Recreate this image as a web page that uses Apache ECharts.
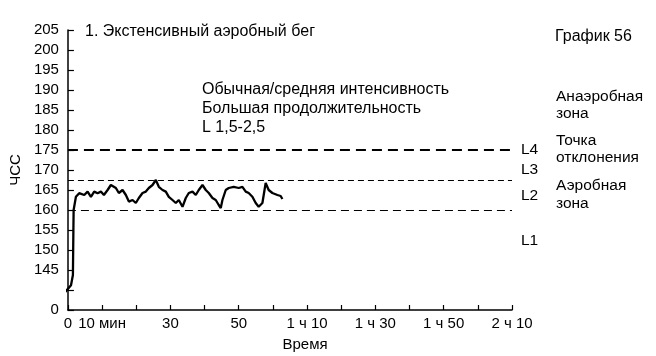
<!DOCTYPE html>
<html><head><meta charset="utf-8">
<script src="https://cdn.jsdelivr.net/npm/echarts@6/dist/echarts.min.js"></script>
<style>html,body{margin:0;padding:0;background:#fff}#c{width:656px;height:356px}</style>
</head><body><div id="c"></div>
<script>
// Time in minutes
const timeMin = [-0.8,0.9,1.46,1.6,1.67,2.34,3.30,4.77,5.76,6.73,7.69,8.68,9.65,10.53,11.61,12.57,13.07,14.04,14.91,15.99,16.96,17.84,18.92,19.88,20.76,21.84,22.81,23.68,24.77,25.73,26.61,27.69,28.65,29.53,30.61,31.58,32.46,33.54,34.50,35.38,36.46,37.43,38.30,39.39,40.35,41.23,42.31,43.27,44.15,44.74,45.23,46.2,47.08,48.54,50.0,51.08,52.05,52.92,54.0,54.97,55.85,56.93,57.89,58.77,59.85,61.32,62.28,62.78];
// Heart rate (ЧСС)
const hrValues = [139.5,141.2,143.75,155,160,163.3,164.2,163.75,164.6,163.3,164.6,164.2,164.6,163.75,165.0,166.25,166.75,165.5,164.25,165.0,163.75,162.1,162.5,161.75,163.0,164.25,164.6,165.5,166.25,167.5,165.8,165.0,164.6,163.3,162.5,161.75,162.5,160.8,163.0,164.25,164.6,163.75,165.0,166.25,165.0,164.25,163.0,162.5,161.25,160.5,162.5,165.0,165.5,165.8,165.5,165.8,164.6,164.25,163.3,161.75,160.8,161.75,166.75,165.0,164.25,163.75,163.5,162.75];
// Threshold lines
const thresholdL4 = 175;
const thresholdL3 = 167.5;
const thresholdL2 = 160;
// Tick labels
const xTickLabels = {0:'0',10:'10 мин',30:'30',50:'50',70:'1 ч 10',90:'1 ч 30',110:'1 ч 50',130:'2 ч 10'};
const yTickLabels = {135:'0',140:''};

const F = '"Liberation Sans", Arial, sans-serif';
const chart = echarts.init(document.getElementById('c'));
const data = timeMin.map((t,i)=>[t,hrValues[i]]);
const txt = (x,y,s,size,align) => ({type:'text',x:x,y:y,style:{text:s,font:(size||16)+'px '+F,fill:'#000',textAlign:align||'left',textVerticalAlign:'middle'}});
chart.setOption({
  animation:false,
  backgroundColor:'#fff',
  grid:{left:67,top:30,width:445,height:280,containLabel:false},
  xAxis:{type:'value',min:0,max:130,interval:10,
    axisLine:{lineStyle:{color:'#000',width:1.5}},
    axisTick:{inside:true,length:5,lineStyle:{color:'#000',width:1.2}},
    axisLabel:{color:'#000',fontFamily:F,fontSize:15,margin:6,showMinLabel:true,showMaxLabel:true,
      formatter:v=> (xTickLabels[v]!==undefined?xTickLabels[v]:'')},
    splitLine:{show:false}},
  yAxis:{type:'value',min:135,max:205,interval:5,
    name:'ЧСС',nameLocation:'middle',nameGap:42,nameRotate:90,
    nameTextStyle:{color:'#000',fontFamily:F,fontSize:15},
    axisLine:{show:true,lineStyle:{color:'#000',width:1.5}},
    axisTick:{show:true,inside:true,length:6,lineStyle:{color:'#000',width:1.2}},
    axisLabel:{color:'#000',fontFamily:F,fontSize:15,margin:9,
      formatter:v=> (yTickLabels[v]!==undefined?yTickLabels[v]:String(v))},
    splitLine:{show:false}},
  series:[{type:'line',data:data,showSymbol:false,clip:false,
    lineStyle:{color:'#000',width:2.3},
    markLine:{silent:true,symbol:'none',label:{show:false},
      data:[
        {yAxis:thresholdL4,lineStyle:{color:'#000',type:[10,6],width:2}},
        {yAxis:thresholdL3,lineStyle:{color:'#000',type:[6,4],width:1}},
        {yAxis:thresholdL2,lineStyle:{color:'#000',type:[8,5],width:1.2}}
      ]}}],
  graphic:[
    txt(85,32,'1. Экстенсивный аэробный бег',16),
    txt(555,37,'График 56',16),
    txt(202,90,'Обычная/средняя интенсивность',16),
    txt(202,109,'Большая продолжительность',16),
    txt(202,128,'L 1,5-2,5',16),
    txt(556,97,'Анаэробная',15.5),
    txt(556,114,'зона',15.5),
    txt(556,141,'Точка',15.5),
    txt(556,158,'отклонения',15.5),
    txt(556,186,'Аэробная',15.5),
    txt(556,204,'зона',15.5),
    txt(521,150,'L4',15.5),
    txt(521,170,'L3',15.5),
    txt(521,196,'L2',15.5),
    txt(521,241,'L1',15.5),
    txt(305,345,'Время',15,'center')
  ]
});
</script></body></html>
